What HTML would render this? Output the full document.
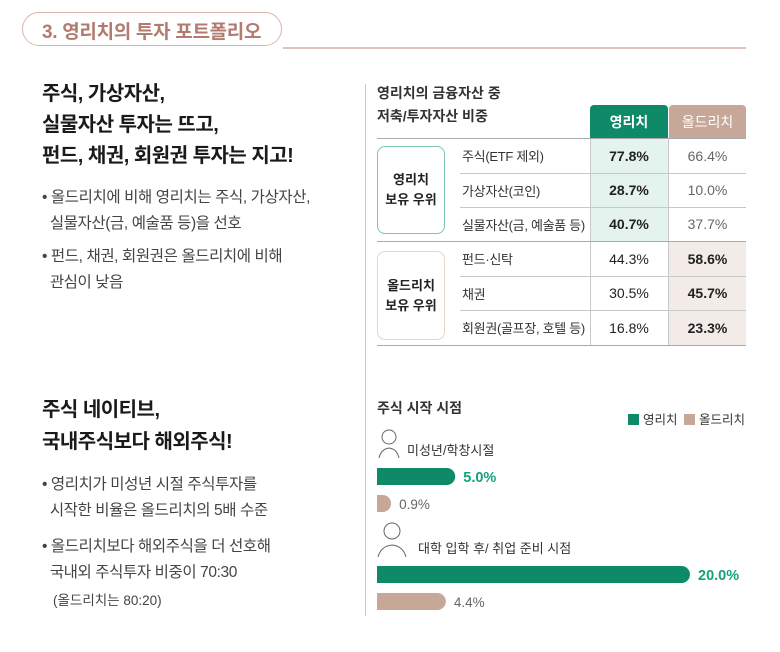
<!DOCTYPE html>
<html><head><meta charset="utf-8"><style>
body{margin:0;width:780px;height:652px;background:#fff;position:relative;overflow:hidden;font-family:"Liberation Sans","Noto Sans CJK KR",sans-serif;color:#222}
.a{position:absolute;white-space:nowrap}
.h{font-size:20px;font-weight:700;color:#1a1a1a;letter-spacing:-0.5px}
.b{font-size:15.5px;color:#444;letter-spacing:-0.4px}
.cell{position:absolute;display:flex;align-items:center;justify-content:center;font-size:14px;box-sizing:border-box}
.lbl{position:absolute;font-size:13px;color:#333;display:flex;align-items:center;letter-spacing:-0.3px}
.hl{position:absolute;height:1px;background:#c8c8c8}
</style></head><body>
<div class="a" style="left:22px;top:12px;width:260px;height:34px;border:1.5px solid #d9b5ad;border-radius:18px;box-sizing:border-box"></div>
<div class="a" style="left:42px;top:17px;font-size:19px;font-weight:700;color:#b37b70;letter-spacing:-0.3px">3. 영리치의 투자 포트폴리오</div>
<div class="a" style="left:283px;top:47px;width:463px;height:1.5px;background:#e0c4bc"></div>

<div class="a h" style="left:42px;top:79px;line-height:31px">주식, 가상자산,<br>실물자산 투자는 뜨고,<br>펀드, 채권, 회원권 투자는 지고!</div>
<div class="a b" style="left:42px;top:185px;line-height:26px">• 올드리치에 비해 영리치는 주식, 가상자산,<br>&nbsp;&nbsp;실물자산(금, 예술품 등)을 선호</div>
<div class="a b" style="left:42px;top:244px;line-height:26px">• 펀드, 채권, 회원권은 올드리치에 비해<br>&nbsp;&nbsp;관심이 낮음</div>

<div class="a h" style="left:42px;top:394px;line-height:32px">주식 네이티브,<br>국내주식보다 해외주식!</div>
<div class="a b" style="left:42px;top:472px;line-height:26px">• 영리치가 미성년 시절 주식투자를<br>&nbsp;&nbsp;시작한 비율은 올드리치의 5배 수준</div>
<div class="a b" style="left:42px;top:534px;line-height:26px">• 올드리치보다 해외주식을 더 선호해<br>&nbsp;&nbsp;국내외 주식투자 비중이 70:30</div>
<div class="a" style="left:53px;top:589px;font-size:13.5px;color:#444">(올드리치는 80:20)</div>

<div class="a" style="left:365px;top:84px;width:1px;height:532px;background:#c8c8c8"></div>

<!-- table -->
<div class="a" style="left:377px;top:82px;font-size:14px;font-weight:700;color:#333;line-height:23px">영리치의 금융자산 중<br>저축/투자자산 비중</div>
<div class="cell" style="left:590px;top:105px;width:78px;height:33px;background:#0f8a68;color:#fff;font-weight:700;border-radius:4px 4px 0 0">영리치</div>
<div class="cell" style="left:669px;top:105px;width:77px;height:33px;background:#c7a797;color:#fff;border-radius:4px 4px 0 0">올드리치</div>
<div class="a" style="left:590px;top:138px;width:78px;height:103px;background:#e4f3ee"></div>
<div class="a" style="left:669px;top:241px;width:77px;height:104px;background:#f3ebe7"></div>
<div class="a" style="left:590px;top:138px;width:1px;height:207px;background:#c8c8c8"></div>
<div class="a" style="left:668px;top:138px;width:1px;height:207px;background:#c8c8c8"></div>
<div class="hl" style="left:377px;top:138px;width:369px;background:#aaa"></div>
<div class="hl" style="left:460px;top:173px;width:286px"></div>
<div class="hl" style="left:460px;top:207px;width:286px"></div>
<div class="hl" style="left:377px;top:241px;width:369px;background:#aaa"></div>
<div class="hl" style="left:460px;top:276px;width:286px"></div>
<div class="hl" style="left:460px;top:310px;width:286px"></div>
<div class="hl" style="left:377px;top:345px;width:369px;background:#aaa"></div>
<div class="cell" style="left:377px;top:146px;width:68px;height:88px;border:1.5px solid #7cc5b0;border-radius:8px;font-weight:700;font-size:13px;line-height:20px;text-align:center">영리치<br>보유 우위</div>
<div class="cell" style="left:377px;top:251px;width:68px;height:89px;border:1.5px solid #e6d3cb;border-radius:8px;font-weight:700;font-size:13px;line-height:20px;text-align:center">올드리치<br>보유 우위</div>
<div id="rows"></div>

<!-- bar chart -->
<div class="a" style="left:377px;top:398px;font-size:14px;font-weight:700;color:#333">주식 시작 시점</div>
<svg class="a" style="left:0;top:0" width="780" height="652" id="chart">
<g>
<rect x="628" y="414" width="11" height="11" fill="#0f8a68"/><text x="643" y="424" font-size="12.5" fill="#333">영리치</text>
<rect x="684" y="414" width="11" height="11" fill="#c7a797"/><text x="699" y="424" font-size="12.5" fill="#333">올드리치</text>
</g>
<g fill="none" stroke="#666" stroke-width="1"><circle cx="389" cy="437" r="7"/><path d="M379 458 q2-9 10-10 q8 1 10 10"/></g>
<g fill="none" stroke="#666" stroke-width="1"><circle cx="392" cy="531" r="8"/><path d="M378 557 q3-11 14-12 q11 1 14 12"/></g>
</svg>
<script>
const rowLabels=["주식(ETF 제외)","가상자산(코인)","실물자산(금, 예술품 등)","펀드·신탁","채권","회원권(골프장, 호텔 등)"];
const youngVals=["77.8%","28.7%","40.7%","44.3%","30.5%","16.8%"];
const oldVals=["66.4%","10.0%","37.7%","58.6%","45.7%","23.3%"];
const rowTops=[138,173,207,241,276,310];
const rows=document.getElementById('rows');
rowLabels.forEach((l,i)=>{
  const t=rowTops[i],h=(rowTops[i+1]||345)-t;
  const a=document.createElement('div');a.className='lbl';
  
  
  a.style.cssText=`left:462px;top:${t}px;height:${h}px`;a.textContent=l;rows.appendChild(a);
  const y=document.createElement('div');y.className='cell';
  
  
  y.style.cssText=`left:590px;top:${t}px;width:78px;height:${h}px;color:#222;${i<3?'font-weight:700':''}`;y.textContent=youngVals[i];rows.appendChild(y);
  const o=document.createElement('div');o.className='cell';
  
  
  o.style.cssText=`left:669px;top:${t}px;width:77px;height:${h}px;color:${i<3?'#666':'#222'};${i>=3?'font-weight:700':''}`;o.textContent=oldVals[i];rows.appendChild(o);
});

const categories=["미성년/학창시절","대학 입학 후/ 취업 준비 시점"];
const youngSeries=[5.0,20.0];
const oldSeries=[0.9,4.4];
const svg=document.getElementById('chart');const NS='http://www.w3.org/2000/svg';
const x0=377,pxPer=15.65;
const xs=v=>v*pxPer;
const groupTop=[440,538];
function mk(tag,attrs){const e=document.createElementNS(NS,tag);for(const k in attrs)e.setAttribute(k,attrs[k]);svg.appendChild(e);return e;}
function bar(y,w,col){const h=17,r=8.5;w=Math.max(w,r);return mk('path',{d:`M${x0} ${y}H${x0+w-r}A${r} ${r} 0 0 1 ${x0+w-r} ${y+h}H${x0}Z`,fill:col});}
categories.forEach((c,i)=>{
  const g=groupTop[i];
  const t=mk('text',{x:i?418:407,y:g+15,'font-size':13,fill:'#333'});t.textContent=c;
  
  
  const b1=bar(g+28,xs(youngSeries[i]),'#0f8a68');
  
  
  const l1=mk('text',{x:x0+xs(youngSeries[i])+8,y:g+42,'font-size':14.5,'font-weight':700,fill:'#14a27a'});l1.textContent=youngSeries[i].toFixed(1)+'%';
  
  
  const b2=bar(g+55,xs(oldSeries[i]),'#c7a797');
  
  
  const l2=mk('text',{x:x0+Math.max(xs(oldSeries[i]),8.5)+8,y:g+69,'font-size':13.5,fill:'#666'});l2.textContent=oldSeries[i].toFixed(1)+'%';
  
  
});
</script>
</body></html>
